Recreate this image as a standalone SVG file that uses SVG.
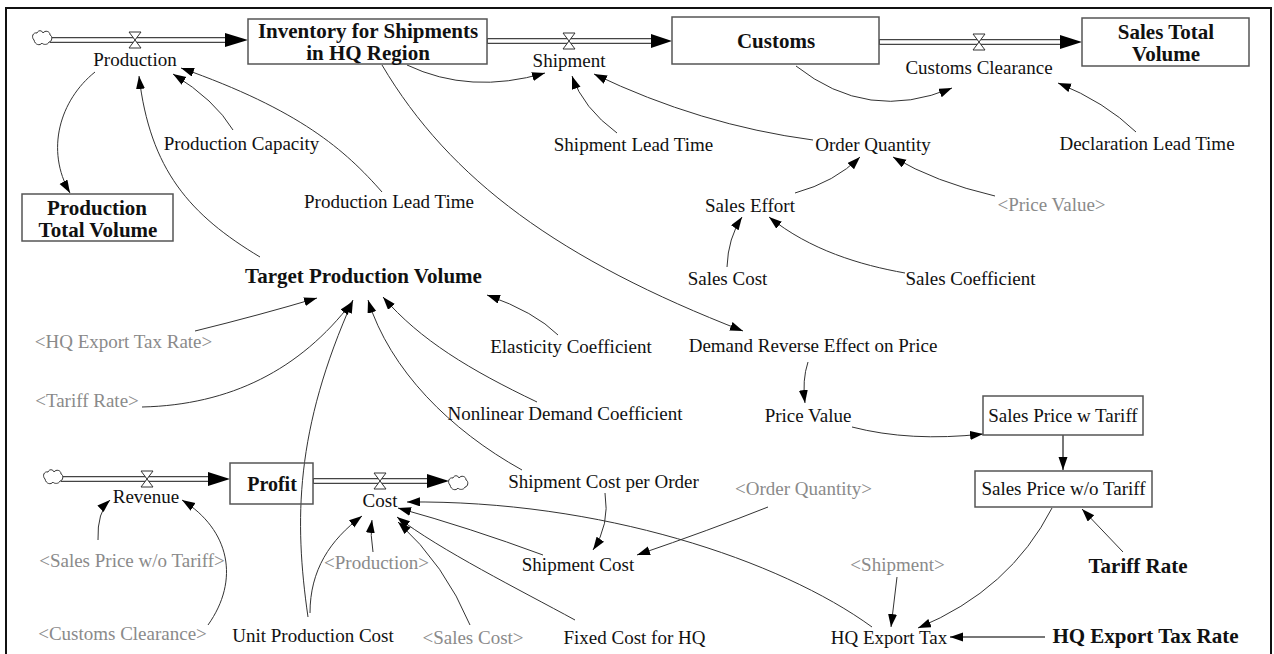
<svg xmlns="http://www.w3.org/2000/svg" width="1274" height="654" viewBox="0 0 1274 654" font-family="'Liberation Serif', 'Times New Roman', serif">
  <style>
    text { font-family: 'Liberation Serif', 'Times New Roman', serif; fill: #111; }
    .v { font-size: 19px; text-anchor: middle; }
    .b { font-size: 21px; font-weight: bold; text-anchor: middle; }
    .g { font-size: 19px; text-anchor: middle; fill: #8a8a8a; }
    .box { fill: none; stroke: #555; stroke-width: 1.5; }
    .link { fill: none; stroke: #333; stroke-width: 1; marker-end: url(#ah); }
    .link2 { fill: none; stroke: #777; stroke-width: 2; marker-end: url(#ah); }
    .pipeo { fill: none; stroke: #444; stroke-width: 6; }
    .pipei { fill: none; stroke: #fff; stroke-width: 3.4; }
    .valve { fill: #fff; stroke: #333; stroke-width: 1; }
    .head { fill: #000; }
    .cloud { fill: #fff; stroke: #333; stroke-width: 1; }
  </style>
  <defs>
    <marker id="ah" markerUnits="userSpaceOnUse" markerWidth="14" markerHeight="10" refX="13" refY="4.5" orient="auto">
      <path d="M0,0 L13,4.5 L0,9 Z" fill="#000"/>
    </marker>
    <path id="cloudShape" class="cloud" d="M-8,2 C-11,-1 -9,-6 -5,-5 C-4,-8 0,-8 1,-5 C3,-8 8,-7 8,-3 C11,-2 10,4 7,4 C6,7 1,7 0,5 C-2,8 -7,7 -8,2 Z"/>
  </defs>

  <rect width="1274" height="654" fill="#fff"/>
  <!-- outer frame -->
  <rect x="6" y="8" width="1265" height="660" fill="none" stroke="#111" stroke-width="2"/>

  <!-- material flows (pipes, valves, clouds) -->
  <g id="flows">
    <path class="pipeo" d="M50,40 H228"/><path class="pipei" d="M50,40 H228"/>
    <polygon class="head" points="225,33 248,40 225,47"/>
    <use href="#cloudShape" x="42" y="38"/>
    <polygon class="valve" points="129,32 141,32 129,48 141,48"/>

    <path class="pipeo" d="M487,41 H654"/><path class="pipei" d="M488,41 H654"/>
    <polygon class="head" points="651,34 672,41 651,48"/>
    <polygon class="valve" points="563,33 575,33 563,49 575,49"/>

    <path class="pipeo" d="M879,42 H1063"/><path class="pipei" d="M880,42 H1063"/>
    <polygon class="head" points="1060,35 1082,42 1060,49"/>
    <polygon class="valve" points="973,34 985,34 973,50 985,50"/>

    <path class="pipeo" d="M61,479 H211"/><path class="pipei" d="M61,479 H211"/>
    <polygon class="head" points="208,472 230,479 208,486"/>
    <use href="#cloudShape" x="53" y="477"/>
    <polygon class="valve" points="141,471 153,471 141,487 153,487"/>

    <path class="pipeo" d="M313,481 H430"/><path class="pipei" d="M314,481 H430"/>
    <polygon class="head" points="427,474 449,481 427,488"/>
    <use href="#cloudShape" x="458" y="483"/>
    <polygon class="valve" points="374,473 386,473 374,489 386,489"/>
  </g>

  <!-- information links -->
  <g id="connectors">
    <path class="link" d="M95,72 C60,100 45,150 70,193"/>
    <path class="link" d="M260,257 C190,215 150,170 139,76"/>
    <path class="link" d="M233,130 Q215,100 173,74"/>
    <path class="link" d="M382,192 C345,150 300,110 181,68"/>
    <path class="link" d="M407,65 Q470,95 545,73"/>
    <path class="link" d="M382,65 C450,180 560,260 743,331"/>
    <path class="link" d="M617,133 Q583,108 572,76"/>
    <path class="link" d="M813,140 Q700,125 594,74"/>
    <path class="link" d="M796,66 Q868,123 952,88"/>
    <path class="link" d="M1136,132 Q1105,102 1058,83"/>
    <path class="link" d="M795,193 Q835,182 860,157"/>
    <path class="link" d="M995,196 Q935,182 893,157"/>
    <path class="link" d="M727,267 Q728,238 742,217"/>
    <path class="link" d="M905,273 C860,265 810,250 769,217"/>
    <path class="link" d="M558,335 Q535,312 487,295"/>
    <path class="link" d="M537,402 C470,370 420,340 383,297"/>
    <path class="link" d="M522,470 C450,430 390,370 368,300"/>
    <path class="link" d="M308,617 C294,520 295,430 353,300"/>
    <path class="link" d="M310,613 C310,570 330,540 362,516"/>
    <path class="link" d="M195,331 Q260,315 317,298"/>
    <path class="link" d="M142,407 C230,405 300,370 352,302"/>
    <path class="link" d="M808,362 Q802,380 805,403"/>
    <path class="link" d="M852,427 Q910,442 983,434"/>
    <path class="link2" d="M1063,435 L1063,470"/>
    <path class="link" d="M1123,552 L1082,509"/>
    <path class="link" d="M1052,508 Q1010,590 918,628"/>
    <path class="link2" d="M1045,637 L950,637"/>
    <path class="link" d="M897,577 L891,627"/>
    <path class="link" d="M872,627 C780,560 600,500 407,502"/>
    <path class="link" d="M543,555 Q470,528 398,508"/>
    <path class="link" d="M575,620 C520,590 440,550 397,517"/>
    <path class="link" d="M470,625 Q445,565 398,522"/>
    <path class="link" d="M373,552 Q370,535 372,520"/>
    <path class="link" d="M605,493 Q610,525 593,550"/>
    <path class="link" d="M768,507 Q710,530 637,555"/>
    <path class="link" d="M98,540 Q97,512 110,500"/>
    <path class="link" d="M208,625 C240,580 230,530 182,500"/>
  </g>

  <!-- stocks -->
  <g id="inventory">
    <rect class="box" x="248" y="19" width="239" height="45"/>
    <text class="b" x="368" y="38">Inventory for Shipments</text>
    <text class="b" x="368" y="60">in HQ Region</text>
  </g>
  <g id="customs">
    <rect class="box" x="672" y="17" width="207" height="47"/>
    <text class="b" x="776" y="48">Customs</text>
  </g>
  <g id="sales-total-volume">
    <rect class="box" x="1082" y="18" width="167" height="48"/>
    <text class="b" x="1166" y="39">Sales Total</text>
    <text class="b" x="1166" y="61">Volume</text>
  </g>
  <g id="production-total-volume">
    <rect class="box" x="22" y="194" width="151" height="47"/>
    <text class="b" x="97" y="215">Production</text>
    <text class="b" x="98" y="237">Total Volume</text>
  </g>
  <g id="profit">
    <rect class="box" x="230" y="463" width="83" height="41"/>
    <text class="b" x="272" y="491" style="font-size:20px">Profit</text>
  </g>
  <g id="sales-price-w-tariff">
    <rect class="box" x="983" y="396" width="160" height="39"/>
    <text class="v" x="1063" y="422">Sales Price w Tariff</text>
  </g>
  <g id="sales-price-wo-tariff">
    <rect class="box" x="975" y="471" width="177" height="36"/>
    <text class="v" x="1063.5" y="495">Sales Price w/o Tariff</text>
  </g>

  <!-- flow rates -->
  <g id="production"><text class="v" x="135" y="66">Production</text></g>
  <g id="shipment"><text class="v" x="569" y="67">Shipment</text></g>
  <g id="customs-clearance"><text class="v" x="979" y="74">Customs Clearance</text></g>
  <g id="revenue"><text class="v" x="146" y="503">Revenue</text></g>
  <g id="cost"><text class="v" x="380" y="507">Cost</text></g>

  <!-- auxiliaries -->
  <g id="production-capacity"><text class="v" x="241.5" y="150">Production Capacity</text></g>
  <g id="production-lead-time"><text class="v" x="389" y="208">Production Lead Time</text></g>
  <g id="target-production-volume"><text class="b" x="363.5" y="283">Target Production Volume</text></g>
  <g id="elasticity-coefficient"><text class="v" x="571" y="353">Elasticity Coefficient</text></g>
  <g id="nonlinear-demand-coefficient"><text class="v" x="565" y="420">Nonlinear Demand Coefficient</text></g>
  <g id="shipment-lead-time"><text class="v" x="633.5" y="151">Shipment Lead Time</text></g>
  <g id="order-quantity"><text class="v" x="873" y="151">Order Quantity</text></g>
  <g id="declaration-lead-time"><text class="v" x="1147" y="150">Declaration Lead Time</text></g>
  <g id="sales-effort"><text class="v" x="750" y="212">Sales Effort</text></g>
  <g id="sales-cost"><text class="v" x="727.5" y="285">Sales Cost</text></g>
  <g id="sales-coefficient"><text class="v" x="970.5" y="285">Sales Coefficient</text></g>
  <g id="demand-reverse-effect"><text class="v" x="813" y="352">Demand Reverse Effect on Price</text></g>
  <g id="price-value"><text class="v" x="808" y="422">Price Value</text></g>
  <g id="tariff-rate"><text class="b" x="1138" y="573">Tariff Rate</text></g>
  <g id="hq-export-tax-rate"><text class="b" x="1145.5" y="643">HQ Export Tax Rate</text></g>
  <g id="hq-export-tax"><text class="v" x="889" y="644">HQ Export Tax</text></g>
  <g id="shipment-cost-per-order"><text class="v" x="603.5" y="488">Shipment Cost per Order</text></g>
  <g id="shipment-cost"><text class="v" x="578" y="571">Shipment Cost</text></g>
  <g id="fixed-cost-hq"><text class="v" x="634.5" y="644">Fixed Cost for HQ</text></g>
  <g id="unit-production-cost"><text class="v" x="313" y="642">Unit Production Cost</text></g>

  <!-- shadow variables -->
  <g id="shadow-hq-export-tax-rate"><text class="g" x="123.5" y="348">&lt;HQ Export Tax Rate&gt;</text></g>
  <g id="shadow-tariff-rate"><text class="g" x="87" y="407">&lt;Tariff Rate&gt;</text></g>
  <g id="shadow-price-value"><text class="g" x="1051.5" y="211">&lt;Price Value&gt;</text></g>
  <g id="shadow-shipment"><text class="g" x="897.5" y="571">&lt;Shipment&gt;</text></g>
  <g id="shadow-order-quantity"><text class="g" x="803.5" y="495">&lt;Order Quantity&gt;</text></g>
  <g id="shadow-sales-cost"><text class="g" x="473" y="644">&lt;Sales Cost&gt;</text></g>
  <g id="shadow-production"><text class="g" x="376.5" y="569">&lt;Production&gt;</text></g>
  <g id="shadow-sales-price-wo-tariff"><text class="g" x="132" y="567">&lt;Sales Price w/o Tariff&gt;</text></g>
  <g id="shadow-customs-clearance"><text class="g" x="122.5" y="640">&lt;Customs Clearance&gt;</text></g>
</svg>
